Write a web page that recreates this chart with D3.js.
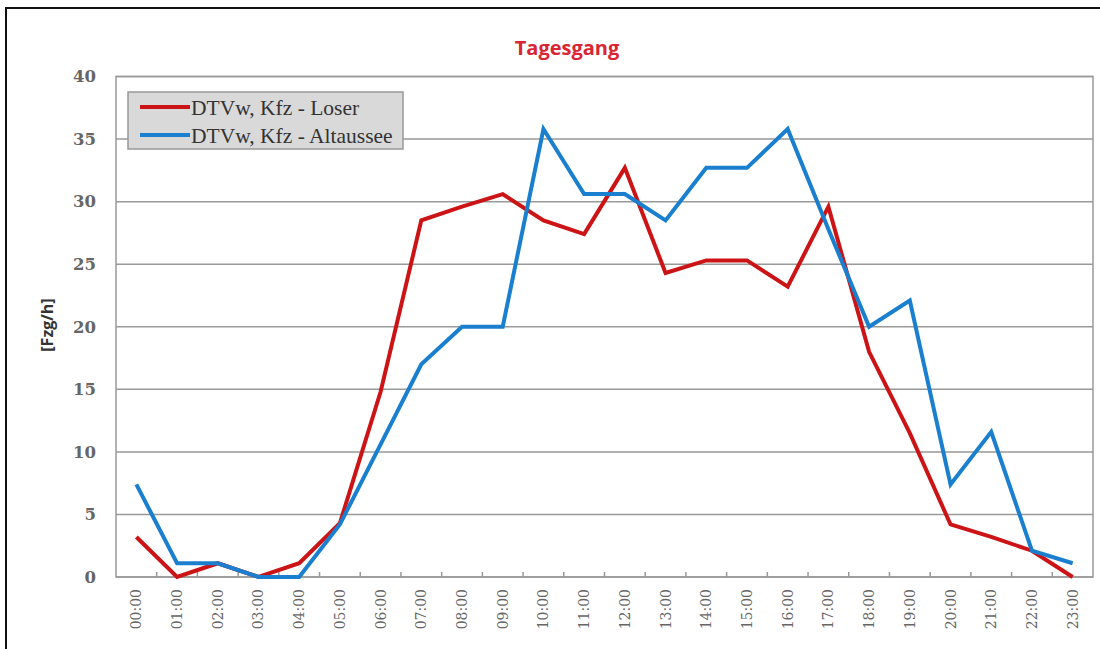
<!DOCTYPE html>
<html>
<head>
<meta charset="utf-8">
<script src="https://cdn.jsdelivr.net/npm/d3@7"></script>
<style>
  body { margin: 0; background: #fff; }
  svg { display: block; }
</style>
</head>
<body>
<div id="chart"></div>
<script>
// hours of the day
const hours = ["00:00","01:00","02:00","03:00","04:00","05:00","06:00","07:00","08:00","09:00","10:00","11:00",
               "12:00","13:00","14:00","15:00","16:00","17:00","18:00","19:00","20:00","21:00","22:00","23:00"];
// DTVw, Kfz - Loser
const loser = [3.2, 0, 1.1, 0, 1.1, 4.3, 14.8, 28.5, 29.6, 30.6, 28.5, 27.4,
               32.7, 24.3, 25.3, 25.3, 23.2, 29.6, 18.0, 11.5, 4.2, 3.2, 2.1, 0];
// DTVw, Kfz - Altaussee
const altaussee = [7.4, 1.1, 1.1, 0, 0, 4.2, 10.6, 17.0, 20.0, 20.0, 35.8, 30.6,
                   30.6, 28.5, 32.7, 32.7, 35.8, 27.8, 20.0, 22.1, 7.4, 11.6, 2.1, 1.1];
const yTicks = [0, 5, 10, 15, 20, 25, 30, 35, 40];
const seriesNames = ["DTVw, Kfz - Loser", "DTVw, Kfz - Altaussee"];
const seriesColors = ["#cc1417", "#1a7fcf"];

const W = 1100, H = 649;
const margin = { top: 76.5, right: 7, bottom: 72, left: 116 };
const width = W - margin.left - margin.right;
const height = H - margin.top - margin.bottom;

const svg = d3.select("#chart").append("svg")
    .attr("width", W)
    .attr("height", H);

// outer frame
svg.append("rect")
    .attr("x", 6).attr("y", 8)
    .attr("width", W + 20).attr("height", H + 20)
    .attr("fill", "none")
    .attr("stroke", "#111")
    .attr("stroke-width", 2);

svg.append("text")
    .attr("x", 567).attr("y", 55)
    .attr("text-anchor", "middle")
    .attr("font-family", "'Open Sans', sans-serif")
    .attr("font-weight", "bold")
    .attr("font-size", 20)
    .attr("fill", "#d92534")
    .text("Tagesgang");

const g = svg.append("g")
    .attr("transform", "translate(" + margin.left + "," + margin.top + ")");

const x = d3.scaleBand().domain(hours).range([0, width]);
const y = d3.scaleLinear().domain([0, 40]).range([height, 0]);

// gridlines
g.selectAll(".grid")
    .data(yTicks)
    .enter().append("line")
    .attr("x1", 0).attr("x2", width)
    .attr("y1", d => y(d)).attr("y2", d => y(d))
    .attr("stroke", "#999")
    .attr("stroke-width", 1.5);

// plot frame
g.append("rect")
    .attr("width", width).attr("height", height)
    .attr("fill", "none")
    .attr("stroke", "#999")
    .attr("stroke-width", 1.5);

// y axis labels
const yAxis = g.append("g").call(d3.axisLeft(y).tickValues(yTicks).tickSize(0).tickPadding(20));
yAxis.select(".domain").remove();
yAxis.selectAll("text")
    .attr("font-family", "'DejaVu Serif', serif")
    .attr("font-weight", "bold")
    .attr("font-size", 16.5)
    .attr("fill", "#666");

// x axis: ticks between categories
const xTickPos = hours.slice(1).map(h => x(h));
g.selectAll(".xtick")
    .data(xTickPos)
    .enter().append("line")
    .attr("x1", d => d).attr("x2", d => d)
    .attr("y1", height).attr("y2", height - 5)
    .attr("stroke", "#999")
    .attr("stroke-width", 1.5);

g.selectAll(".xlabel")
    .data(hours)
    .enter().append("text")
    .attr("transform", d => "translate(" + (x(d) + x.bandwidth() / 2 + 5) + "," + (height + 12) + ") rotate(-90)")
    .attr("text-anchor", "end")
    .attr("font-family", "'DejaVu Serif', serif")
    .attr("font-size", 14)
    .attr("fill", "#666")
    .text(d => d);

// y axis title
svg.append("text")
    .attr("transform", "translate(53,325) rotate(-90)")
    .attr("text-anchor", "middle")
    .attr("font-family", "'Open Sans', sans-serif")
    .attr("font-weight", "bold")
    .attr("font-size", 16)
    .attr("fill", "#333")
    .text("[Fzg/h]");

// lines
const line = d3.line()
    .x((d, i) => x(hours[i]) + x.bandwidth() / 2)
    .y(d => y(d));

[loser, altaussee].forEach((s, i) => {
    g.append("path")
        .datum(s)
        .attr("fill", "none")
        .attr("stroke", seriesColors[i])
        .attr("stroke-width", 4)
        .attr("stroke-linejoin", "miter")
        .attr("d", line);
});

// legend
const legend = svg.append("g").attr("transform", "translate(128,92)");
legend.append("rect")
    .attr("width", 275).attr("height", 57)
    .attr("fill", "#d9d9d9")
    .attr("stroke", "#999")
    .attr("stroke-width", 1.5);

seriesNames.forEach((name, i) => {
    const ly = 15 + i * 28;
    legend.append("line")
        .attr("x1", 12).attr("x2", 62)
        .attr("y1", ly).attr("y2", ly)
        .attr("stroke", seriesColors[i])
        .attr("stroke-width", 4);
    legend.append("text")
        .attr("x", 63).attr("y", ly + 8)
        .attr("font-family", "'Liberation Serif', serif")
        .attr("font-size", 21.5)
        .attr("fill", "#333")
        .text(name);
});
</script>
</body>
</html>
